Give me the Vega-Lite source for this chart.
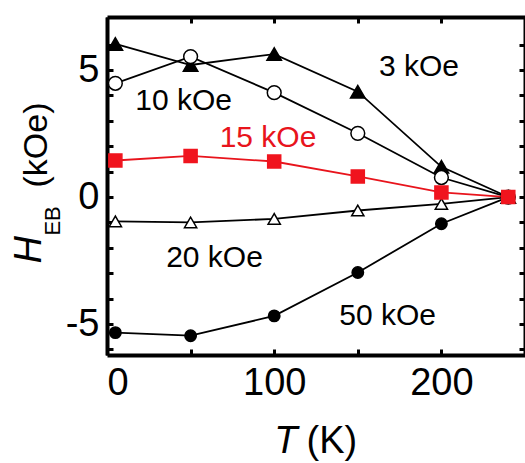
{
  "$schema": "https://vega.github.io/schema/vega-lite/v6.json",
  "width": 418,
  "height": 338,
  "autosize": {"type": "none"},
  "padding": {"left": 107, "top": 17, "right": 0, "bottom": 108},
  "background": "white",
  "config": {
    "view": {"stroke": null},
    "font": "Liberation Sans",
    "axis": {
      "grid": false,
      "domainColor": "black",
      "domainWidth": 4,
      "tickColor": "black",
      "tickWidth": 3,
      "tickSize": -6,
      "labelFont": "Liberation Sans",
      "labelFontSize": 38,
      "labelColor": "black"
    }
  },
  "datasets": {
    "series": [
      {"series": "3 kOe", "T": 5, "H": 6.03},
      {"series": "3 kOe", "T": 50, "H": 5.2},
      {"series": "3 kOe", "T": 100, "H": 5.63},
      {"series": "3 kOe", "T": 150, "H": 4.15},
      {"series": "3 kOe", "T": 200, "H": 1.19},
      {"series": "3 kOe", "T": 240, "H": 0},
      {"series": "10 kOe", "T": 5, "H": 4.48},
      {"series": "10 kOe", "T": 50, "H": 5.53},
      {"series": "10 kOe", "T": 100, "H": 4.11},
      {"series": "10 kOe", "T": 150, "H": 2.51},
      {"series": "10 kOe", "T": 200, "H": 0.77},
      {"series": "10 kOe", "T": 240, "H": 0},
      {"series": "20 kOe", "T": 5, "H": -0.96},
      {"series": "20 kOe", "T": 50, "H": -1.0},
      {"series": "20 kOe", "T": 100, "H": -0.86},
      {"series": "20 kOe", "T": 150, "H": -0.53},
      {"series": "20 kOe", "T": 200, "H": -0.27},
      {"series": "20 kOe", "T": 240, "H": 0},
      {"series": "50 kOe", "T": 5, "H": -5.34},
      {"series": "50 kOe", "T": 50, "H": -5.46},
      {"series": "50 kOe", "T": 100, "H": -4.68},
      {"series": "50 kOe", "T": 150, "H": -2.97},
      {"series": "50 kOe", "T": 200, "H": -1.05},
      {"series": "50 kOe", "T": 240, "H": 0},
      {"series": "15 kOe", "T": 5, "H": 1.44},
      {"series": "15 kOe", "T": 50, "H": 1.62},
      {"series": "15 kOe", "T": 100, "H": 1.4},
      {"series": "15 kOe", "T": 150, "H": 0.81},
      {"series": "15 kOe", "T": 200, "H": 0.18},
      {"series": "15 kOe", "T": 240, "H": 0}
    ],
    "labels": [
      {"series": "3 kOe", "T": 186.6, "H": 4.77},
      {"series": "10 kOe", "T": 45.8, "H": 3.43},
      {"series": "15 kOe", "T": 96.3, "H": 1.98},
      {"series": "20 kOe", "T": 64.3, "H": -2.75},
      {"series": "50 kOe", "T": 167.8, "H": -5.03}
    ]
  },
  "layer": [
    {
      "mark": {"type": "rule", "strokeWidth": 3.5, "color": "black"},
      "encoding": {
        "y": {"datum": 0, "type": "quantitative", "axis": null}
      }
    },
    {
      "data": {"name": "series"},
      "mark": {"type": "line", "strokeWidth": 1.8},
      "encoding": {
        "x": {
          "field": "T", "type": "quantitative",
          "scale": {"domain": [0, 250], "nice": false, "zero": false},
          "axis": {
            "orient": "bottom", "title": null,
            "values": [0, 50, 100, 150, 200, 250],
            "labelExpr": "datum.value % 100 === 0 ? datum.label : ''",
            "labelPadding": 15
          }
        },
        "y": {
          "field": "H", "type": "quantitative",
          "scale": {"domain": [-6.22, 7.09], "nice": false, "zero": false},
          "axis": {
            "orient": "left", "title": null,
            "values": [-6, -5, -4, -3, -2, -1, 0, 1, 2, 3, 4, 5, 6],
            "labelExpr": "datum.value === 5 ? '5' : datum.value === 0 ? '0' : datum.value === -5 ? '-5' : ''",
            "labelPadding": 14
          }
        },
        "color": {
          "field": "series", "type": "nominal",
          "scale": {
            "domain": ["3 kOe", "10 kOe", "15 kOe", "20 kOe", "50 kOe"],
            "range": ["black", "black", "#e8141c", "black", "black"]
          },
          "legend": null
        }
      }
    },
    {
      "data": {"name": "series"},
      "mark": {"type": "point", "filled": true, "strokeWidth": 1.5, "opacity": 1},
      "encoding": {
        "x": {
          "field": "T", "type": "quantitative",
          "axis": {
            "orient": "top", "title": null, "labels": false,
            "values": [0, 50, 100, 150, 200, 250]
          }
        },
        "y": {
          "field": "H", "type": "quantitative",
          "axis": {
            "orient": "right", "title": null, "labels": false,
            "values": [-6, -5, -4, -3, -2, -1, 0, 1, 2, 3, 4, 5, 6]
          }
        },
        "shape": {
          "field": "series", "type": "nominal",
          "scale": {
            "domain": ["3 kOe", "10 kOe", "15 kOe", "20 kOe", "50 kOe"],
            "range": ["triangle-up", "circle", "square", "triangle-up", "circle"]
          },
          "legend": null
        },
        "fill": {
          "field": "series", "type": "nominal",
          "scale": {
            "domain": ["3 kOe", "10 kOe", "15 kOe", "20 kOe", "50 kOe"],
            "range": ["black", "white", "#f0141e", "white", "black"]
          },
          "legend": null
        },
        "stroke": {
          "field": "series", "type": "nominal",
          "scale": {
            "domain": ["3 kOe", "10 kOe", "15 kOe", "20 kOe", "50 kOe"],
            "range": ["black", "black", "#f0141e", "black", "black"]
          },
          "legend": null
        },
        "size": {
          "field": "series", "type": "nominal",
          "scale": {
            "domain": ["3 kOe", "10 kOe", "15 kOe", "20 kOe", "50 kOe"],
            "range": [210, 130, 110, 210, 140]
          },
          "legend": null
        }
      }
    },
    {
      "data": {"name": "labels"},
      "mark": {"type": "text", "fontSize": 30, "align": "center", "baseline": "alphabetic", "font": "Liberation Sans"},
      "encoding": {
        "x": {"field": "T", "type": "quantitative", "axis": null},
        "y": {"field": "H", "type": "quantitative", "axis": null},
        "text": {"field": "series"},
        "color": {"field": "series", "type": "nominal", "legend": null}
      }
    },
    {
      "data": {"values": [{"text": "T", "T": 107, "H": -10.07}]},
      "mark": {"type": "text", "fontSize": 38, "fontStyle": "italic", "align": "center", "baseline": "alphabetic", "font": "Liberation Sans", "color": "black"},
      "encoding": {
        "x": {"field": "T", "type": "quantitative", "axis": null},
        "y": {"field": "H", "type": "quantitative", "axis": null},
        "text": {"field": "text"}
      }
    },
    {
      "data": {"values": [{"text": "(K)", "T": 134.5, "H": -10.07}]},
      "mark": {"type": "text", "fontSize": 38, "align": "center", "baseline": "alphabetic", "font": "Liberation Sans", "color": "black"},
      "encoding": {
        "x": {"field": "T", "type": "quantitative", "axis": null},
        "y": {"field": "H", "type": "quantitative", "axis": null},
        "text": {"field": "text"}
      }
    },
    {
      "data": {"values": [{"text": "H", "T": -39.2, "H": -2.08}]},
      "mark": {"type": "text", "fontSize": 38, "fontStyle": "italic", "angle": -90, "align": "center", "baseline": "alphabetic", "font": "Liberation Sans", "color": "black"},
      "encoding": {
        "x": {"field": "T", "type": "quantitative", "axis": null},
        "y": {"field": "H", "type": "quantitative", "axis": null},
        "text": {"field": "text"}
      }
    },
    {
      "data": {"values": [{"text": "EB", "T": -28.4, "H": -0.94}]},
      "mark": {"type": "text", "fontSize": 22, "angle": -90, "align": "center", "baseline": "alphabetic", "font": "Liberation Sans", "color": "black"},
      "encoding": {
        "x": {"field": "T", "type": "quantitative", "axis": null},
        "y": {"field": "H", "type": "quantitative", "axis": null},
        "text": {"field": "text"}
      }
    },
    {
      "data": {"values": [{"text": "(kOe)", "T": -35.6, "H": 2.05}]},
      "mark": {"type": "text", "fontSize": 34, "angle": -90, "align": "center", "baseline": "alphabetic", "font": "Liberation Sans", "color": "black"},
      "encoding": {
        "x": {"field": "T", "type": "quantitative", "axis": null},
        "y": {"field": "H", "type": "quantitative", "axis": null},
        "text": {"field": "text"}
      }
    }
  ],
  "resolve": {"axis": {"x": "independent", "y": "independent"}}
}
